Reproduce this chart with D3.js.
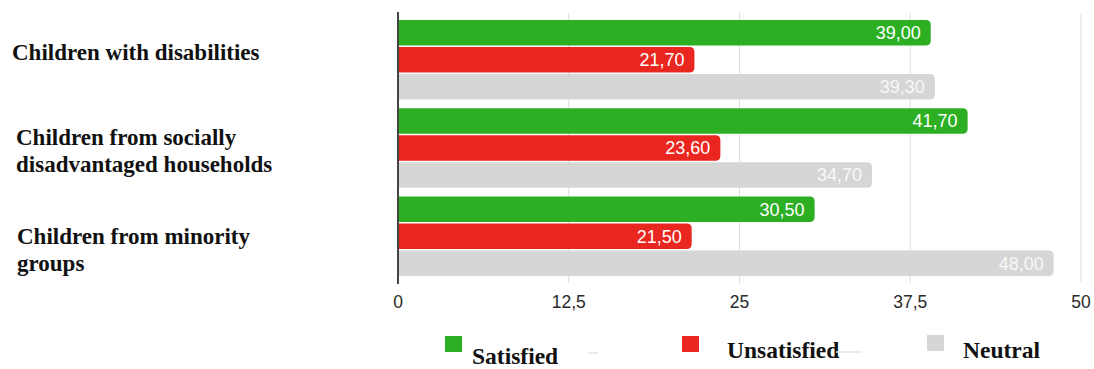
<!DOCTYPE html>
<html>
<head>
<meta charset="utf-8">
<script src="https://cdn.jsdelivr.net/npm/d3@7"></script>
<style>
  html, body { margin: 0; padding: 0; background: #fff; }
  svg { display: block; }
</style>
</head>
<body>
<svg id="chart" width="1094" height="369"></svg>
<script>
// Survey groups and response shares (%)
const categories = [
  ["Children with disabilities"],
  ["Children from socially", "disadvantaged households"],
  ["Children from minority", "groups"]
];
const seriesNames = ["Satisfied", "Unsatisfied", "Neutral"];
const satisfied   = [39.0, 41.7, 30.5];
const unsatisfied = [21.7, 23.6, 21.5];
const neutral     = [39.3, 34.7, 48.0];
const tickValues  = [0, 12.5, 25, 37.5, 50];
const colors      = ["#2caf23", "#e92720", "#d6d6d6"];

const series = [satisfied, unsatisfied, neutral];
const fmt = v => v.toFixed(2).replace(".", ",");
const fmtTick = v => String(v).replace(".", ",");

const svg = d3.select("#chart");
const x = d3.scaleLinear().domain([0, 50]).range([398, 1081]);
const y0 = d3.scaleBand().domain(d3.range(categories.length)).range([13, 283]).paddingInner(0.1).paddingOuter(0.08);
const y1 = d3.scaleBand().domain(d3.range(series.length)).range([0, y0.bandwidth()]).paddingInner(0.06);

// vertical gridlines
svg.append("g").selectAll("line").data(tickValues.slice(1)).join("line")
  .attr("x1", d => x(d)).attr("x2", d => x(d))
  .attr("y1", 13).attr("y2", 283)
  .attr("stroke", "#dcdcdc").attr("stroke-width", 1);

// bars with rounded right end
function barPath(x0, x1, top, h, r) {
  r = Math.min(r, (x1 - x0));
  return `M${x0},${top}H${x1 - r}Q${x1},${top} ${x1},${top + r}V${top + h - r}Q${x1},${top + h} ${x1 - r},${top + h}H${x0}Z`;
}
const groups = svg.append("g").selectAll("g").data(categories).join("g")
  .attr("transform", (d, i) => `translate(0,${y0(i)})`);

series.forEach((vals, s) => {
  groups.append("path")
    .attr("d", (d, i) => barPath(x(0), x(vals[i]), y1(s), y1.bandwidth(), 5))
    .attr("fill", colors[s]);
  groups.append("text")
    .attr("x", (d, i) => x(vals[i]) - 10)
    .attr("y", y1(s) + y1.bandwidth() / 2)
    .attr("dy", "0.36em")
    .attr("text-anchor", "end")
    .attr("font-family", "'Liberation Sans', Arial, sans-serif")
    .attr("font-size", 18)
    .attr("fill", "#fff")
    .attr("fill-opacity", s === 2 ? 0.85 : 1)
    .text((d, i) => fmt(vals[i]));
});

// value axis line
svg.append("line")
  .attr("x1", x(0)).attr("x2", x(0)).attr("y1", 12).attr("y2", 284)
  .attr("stroke", "#444").attr("stroke-width", 2);

// tick labels
svg.append("g").selectAll("text").data(tickValues).join("text")
  .attr("x", d => x(d)).attr("y", 302).attr("dy", "0.35em")
  .attr("text-anchor", "middle")
  .attr("font-family", "'Liberation Sans', Arial, sans-serif")
  .attr("font-size", 17.5).attr("fill", "#2a2a2a")
  .text(fmtTick);

// category labels
const labelPos = [{x: 12, y: 60}, {x: 16, y: 145}, {x: 17, y: 244}];
svg.append("g").selectAll("text").data(categories).join("text")
  .attr("x", (d, i) => labelPos[i].x)
  .attr("y", (d, i) => labelPos[i].y)
  .attr("font-family", "'Liberation Serif', 'Times New Roman', serif")
  .attr("font-weight", "bold").attr("font-size", 23).attr("fill", "#111")
  .each(function(d, i) {
    d3.select(this).selectAll("tspan").data(d).join("tspan")
      .attr("x", labelPos[i].x).attr("dy", (t, j) => j === 0 ? 0 : 27)
      .text(t => t);
  });

// legend
const legend = [
  {sx: 445, sy: 336, tx: 472, ty: 364},
  {sx: 682, sy: 336, tx: 727, ty: 358},
  {sx: 927, sy: 335, tx: 963, ty: 358}
];
const lg = svg.append("g").selectAll("g").data(seriesNames).join("g");
lg.append("rect")
  .attr("x", (d, i) => legend[i].sx).attr("y", (d, i) => legend[i].sy)
  .attr("width", 17).attr("height", 16)
  .attr("fill", (d, i) => colors[i]);
lg.append("text")
  .attr("x", (d, i) => legend[i].tx).attr("y", (d, i) => legend[i].ty)
  .attr("font-family", "'Liberation Serif', 'Times New Roman', serif")
  .attr("font-weight", "bold").attr("font-size", 23.5).attr("fill", "#111")
  .text(d => d);

// faint separators between legend entries
svg.append("g").selectAll("line").data([[588, 598, 353], [836, 862, 352]]).join("line")
  .attr("x1", d => d[0]).attr("x2", d => d[1]).attr("y1", d => d[2]).attr("y2", d => d[2])
  .attr("stroke", "#e4e4e4").attr("stroke-width", 1.5);
</script>
</body>
</html>
